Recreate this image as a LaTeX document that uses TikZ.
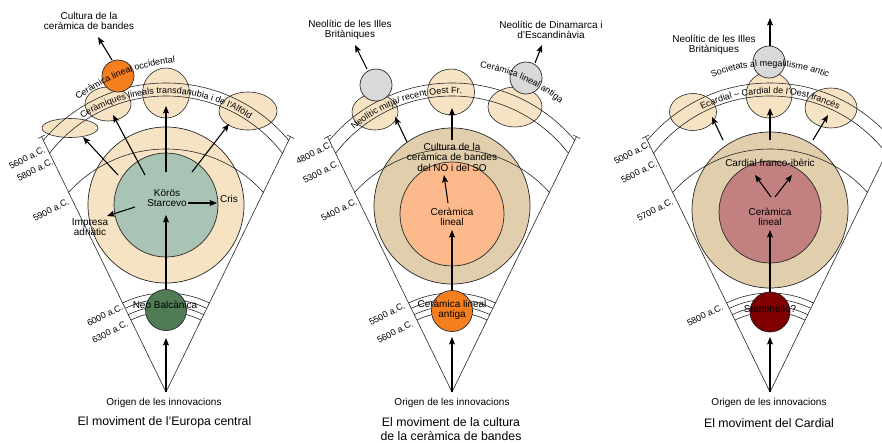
\documentclass[tikz,border=0pt]{standalone}
\usepackage{fontspec}
\setmainfont{Liberation Sans}
\usetikzlibrary{arrows.meta,shapes.geometric,decorations.text}
\definecolor{beigeL}{HTML}{F5E3C4}
\definecolor{beigeD}{HTML}{E0CEAC}
\definecolor{sage}{HTML}{A9C4B4}
\definecolor{dgreen}{HTML}{4F7B55}
\definecolor{orng}{HTML}{F57E1F}
\definecolor{peach}{HTML}{FCB98B}
\definecolor{rose}{HTML}{C38081}
\definecolor{maroonc}{HTML}{800000}
\definecolor{lgray}{HTML}{D9D9D9}
\newcommand\curvefont{\fontsize{9}{10}\selectfont}
\newcommand\fanbase[2]{%
  \coordinate (#2apex) at (#1,392);
  \begin{scope}
    \clip (#1,392) -- ++(244:420) -- ++(0:368.2) -- cycle;
    \draw[arcline] (#1,243) circle[radius=160] (#1,243) circle[radius=147];
    \draw[arcline] (#1,280) circle[radius=131];
    \draw[arcline] (#1,392) circle[radius=99] (#1,392) circle[radius=93]
                   (#1,392) circle[radius=86] (#1,392) circle[radius=80];
  \end{scope}
  \draw[arcline] (#2apex) -- ++(244:284) coordinate (#2L);
  \draw[arcline] (#2apex) -- ++(296:284) coordinate (#2R);
  \draw[arcline] ([shift={(154:4)}]#2L) -- ([shift={(334:4)}]#2L);
  \draw[arcline] ([shift={(206:4)}]#2R) -- ([shift={(26:4)}]#2R);
}
\begin{document}
\begin{tikzpicture}[x=1pt,y=-1pt,
  arcline/.style={line width=0.6pt, draw=black!85},
  blob/.style={circle, draw=black!85, line width=0.7pt, inner sep=0},
  ell/.style={ellipse, draw=black!85, line width=0.6pt, inner sep=0},
  arr/.style={-{Stealth[length=7.5pt,width=6pt,inset=1.5pt]}, line width=1.1pt},
  lab/.style={font=\fontsize{10}{10.5}\selectfont, align=center, inner sep=0},
  captxt/.style={font=\fontsize{12.3}{13.5}\selectfont, align=center, inner sep=0},
  datelab/.style={font=\fontsize{9}{10}\selectfont, inner sep=0, rotate=27},
  curved/.style={decorate, decoration={text along path, text align=center, text={|\curvefont|#1}}}
]
\fill[white] (0,0) rectangle (882,442);
\useasboundingbox (0,0) rectangle (882,442);

% ================= PANEL 1 =================
\node[blob, fill=beigeL, minimum size=156] (p1big) at (166,205) {};
\node[ell, fill=beigeL, minimum width=56, minimum height=19] (p1eA) at (70,128) {};
\node[ell, fill=beigeL, minimum width=46, minimum height=34] (p1eB) at (108,104) {};
\node[ell, fill=beigeL, minimum width=47, minimum height=50] (p1eC) at (166,93) {};
\node[ell, fill=beigeL, minimum width=58, minimum height=38] (p1eD) at (248,111) {};
\fanbase{166}{p1}
\node[blob, fill=sage, minimum size=104] (p1in) at (166,205) {};
\node[blob, fill=orng, minimum size=32] (p1or) at (118,76) {};
\node[blob, fill=dgreen, minimum size=41] (p1bot) at (166,310) {};

\coordinate (p1t0) at (166,338);
\coordinate (p1t1) at (166,215);
\coordinate (p1c1) at (188,203); \coordinate (p1c2) at (217,203);
\coordinate (p1i1) at (135,207); \coordinate (p1i2) at (107,216);
\coordinate (p1a1) at (118,175); \coordinate (p1a2) at (83,137);
\coordinate (p1b1) at (145,175); \coordinate (p1b2) at (113,115);
\coordinate (p1m1) at (166,172); \coordinate (p1m2) at (166,106);
\coordinate (p1d1) at (192,172); \coordinate (p1d2) at (229,124);
\coordinate (p1o1) at (112,60); \coordinate (p1o2) at (98,37);
\draw[arr] (p1apex) -- (p1t0);
\draw[arr] (p1bot.north) -- (p1t1);
\draw[arr] (p1c1) -- (p1c2);
\draw[arr] (p1i1) -- (p1i2);
\draw[arr] (p1a1) -- (p1a2);
\draw[arr] (p1b1) -- (p1b2);
\draw[arr] (p1m1) -- (p1m2);
\draw[arr] (p1d1) -- (p1d2);
\draw[arr] (p1o1) -- (p1o2);

\path[curved={Ceràmiques lineals transdanubia i de l’Alföld}] ([shift={(200:149.5)}]166,243) arc[start angle=200, end angle=340, radius=149.5];
\path[curved={Ceràmica lineal occidental}] ([shift={(222:190)}]192,252) arc[start angle=222, end angle=276, radius=190];

\node[lab] (p1top) at (89,21) {Cultura de la\\ceràmica de bandes};
\node[lab] (p1ks) at (167,198) {Körös\\Starcevo};
\node[lab] (p1cris) at (229,199) {Cris};
\node[lab] (p1imp) at (90,227) {Impresa\\adriàtic};
\node[lab] (p1neo) at (165,305) {Neo Balcànica};
\node[lab] (p1orig) at (164,403) {Origen de les innovacions};
\node[captxt] (p1cap) at (164.5,422) {El moviment de l’Europa central};
\node[datelab] (p1y1) at (27,158) {5600 a.C.};
\node[datelab] (p1y2) at (35,170) {5800 a.C.};
\node[datelab] (p1y3) at (51,210) {5900 a.C.};
\node[datelab] (p1y4) at (105,315) {6000 a.C.};
\node[datelab] (p1y5) at (110,332) {6300 a.C.};

% ================= PANEL 2 =================
\node[blob, fill=beigeD, minimum size=156] (p2big) at (452,206) {};
\node[ell, fill=beigeL, minimum width=46, minimum height=36] (p2eA) at (375,112) {};
\node[ell, fill=beigeL, minimum width=47, minimum height=46] (p2eC) at (451,92) {};
\node[ell, fill=beigeL, minimum width=54, minimum height=40] (p2eD) at (515,107) {};
\fanbase{452}{p2}
\node[blob, fill=peach, minimum size=104] (p2in) at (452,214) {};
\node[blob, fill=lgray, minimum size=32] (p2g1) at (376,85) {};
\node[blob, fill=lgray, minimum size=32] (p2g2) at (526,78) {};
\node[blob, fill=orng, minimum size=41] (p2bot) at (452,311) {};

\coordinate (p2t0) at (452,337);
\coordinate (p2t1) at (452,230);
\coordinate (p2u1) at (448,203); \coordinate (p2u2) at (444,175);
\coordinate (p2m1) at (452,140); \coordinate (p2m2) at (452,108);
\coordinate (p2a1) at (407,142); \coordinate (p2a2) at (395,117);
\coordinate (p2g1a) at (367,69); \coordinate (p2g1b) at (355,45);
\coordinate (p2g2a) at (535,63); \coordinate (p2g2b) at (542,45);
\draw[arr] (p2apex) -- (p2t0);
\draw[arr] (p2bot.north) -- (p2t1);
\draw[arr] (p2u1) -- (p2u2);
\draw[arr] (p2m1) -- (p2m2);
\draw[arr] (p2a1) -- (p2a2);
\draw[arr] (p2g1a) -- (p2g1b);
\draw[arr] (p2g2a) -- (p2g2b);

\path[curved={Neolític mitjà/ recent Oest Fr.}] ([shift={(218:149.5)}]452,243) arc[start angle=218, end angle=285, radius=149.5];
\path[curved={Ceràmica lineal antiga}] ([shift={(270:173)}]452,238) arc[start angle=270, end angle=318, radius=173];

\node[lab] (p2l1) at (350,30) {Neolític de les Illes\\Britàniques};
\node[lab] (p2l2) at (551,30) {Neolític de Dinamarca i\\d’Escandinàvia};
\node[lab] (p2cul) at (452,157) {Cultura de la\\ceràmica de bandes\\del NO i del SO};
\node[lab] (p2cl) at (452,217) {Ceràmica\\lineal};
\node[lab] (p2ant) at (452,310) {Ceràmica lineal\\antiga};
\node[lab] (p2orig) at (452,403) {Origen de les innovacions};
\node[captxt] (p2cap) at (451,429) {El moviment de la cultura\\de la ceràmica de bandes};
\node[datelab] (p2y1) at (314,153) {4800 a.C.};
\node[datelab] (p2y2) at (321,172) {5300 a.C.};
\node[datelab] (p2y3) at (339,210) {5400 a.C.};
\node[datelab] (p2y4) at (387,314) {5500 a.C.};
\node[datelab] (p2y5) at (395,332) {5600 a.C.};

% ================= PANEL 3 =================
\node[blob, fill=beigeD, minimum size=156] (p3big) at (770,210) {};
\node[ell, fill=beigeL, minimum width=47, minimum height=37] (p3eA) at (693,112) {};
\node[ell, fill=beigeL, minimum width=46, minimum height=46] (p3eC) at (769,95) {};
\node[ell, fill=beigeL, minimum width=52, minimum height=40] (p3eD) at (831,108) {};
\fanbase{770}{p3}
\node[blob, fill=rose, minimum size=102] (p3in) at (770,212) {};
\node[blob, fill=lgray, minimum size=32] (p3g) at (769,62) {};
\node[blob, fill=maroonc, minimum size=40] (p3bot) at (770,312) {};

\coordinate (p3t0) at (770,337);
\coordinate (p3t1) at (770,230);
\coordinate (p3s0) at (771,197); \coordinate (p3s1) at (755,175);
\coordinate (p3s2) at (775,197); \coordinate (p3s3) at (792,175);
\coordinate (p3m1) at (770,140); \coordinate (p3m2) at (770,108);
\coordinate (p3a1) at (723,140); \coordinate (p3a2) at (712,117);
\coordinate (p3d1) at (813,140); \coordinate (p3d2) at (828,115);
\coordinate (p3g1) at (770,46); \coordinate (p3g2) at (770,18);
\draw[arr] (p3apex) -- (p3t0);
\draw[arr] (p3bot.north) -- (p3t1);
\draw[arr] (p3s0) -- (p3s1);
\draw[arr] (p3s2) -- (p3s3);
\draw[arr] (p3m1) -- (p3m2);
\draw[arr] (p3a1) -- (p3a2);
\draw[arr] (p3d1) -- (p3d2);
\draw[arr] (p3g1) -- (p3g2);

\path[curved={Ecardial – Cardial de l’Oest francès}] ([shift={(225:149.5)}]770,243) arc[start angle=225, end angle=315, radius=149.5];
\path[curved={Societats al megalitisme antic}] ([shift={(232:150)}]770,216) arc[start angle=232, end angle=308, radius=150];

\node[lab] (p3l1) at (714,45) {Neolític de les Illes\\Britàniques};
\node[lab] (p3cf) at (770,163) {Cardial franco-ibèric};
\node[lab] (p3cl) at (770,217) {Ceràmica\\lineal};
\node[lab] (p3st) at (770,309) {Stentinello?};
\node[lab] (p3orig) at (769,403) {Origen de les innovacions};
\node[captxt] (p3cap) at (769,423) {El moviment del Cardial};
\node[datelab] (p3y1) at (632,153) {5000 a.C.};
\node[datelab] (p3y2) at (639,172) {5600 a.C.};
\node[datelab] (p3y3) at (655,210) {5700 a.C.};
\node[datelab] (p3y4) at (705,315) {5800 a.C.};
\end{tikzpicture}
\end{document}
